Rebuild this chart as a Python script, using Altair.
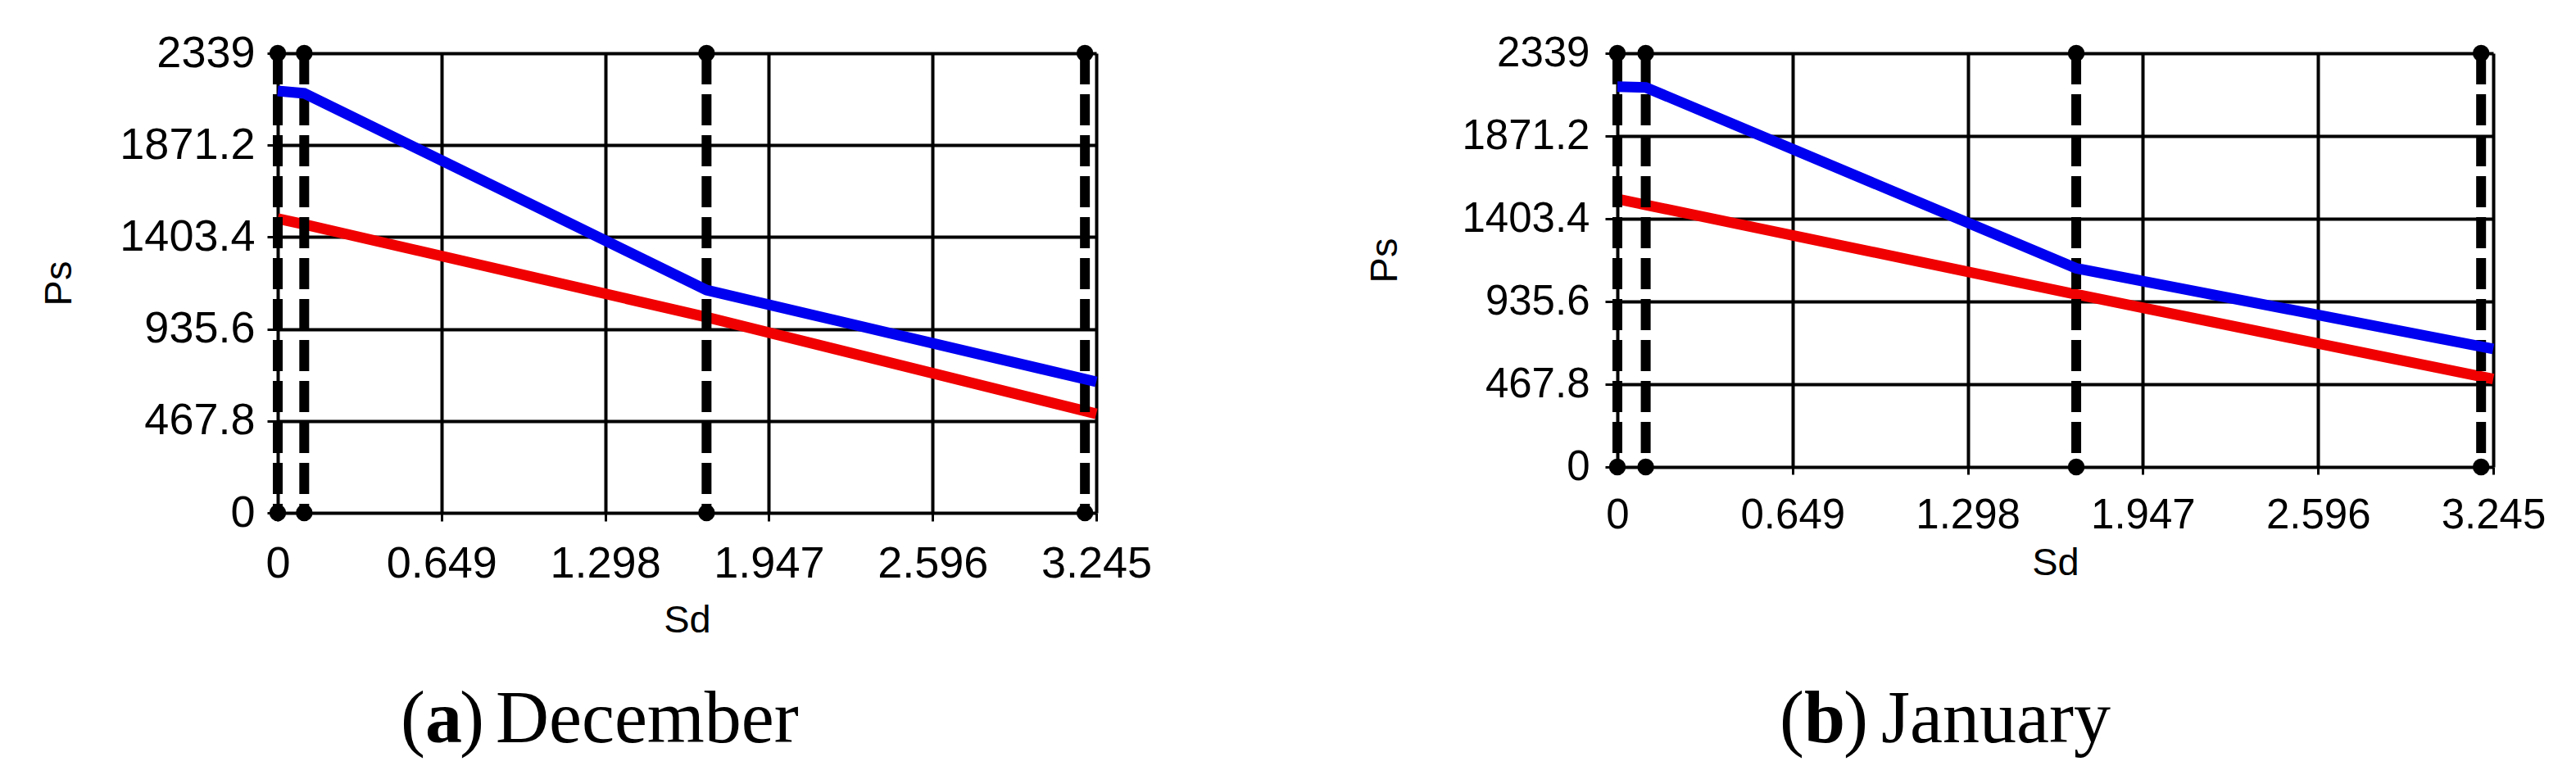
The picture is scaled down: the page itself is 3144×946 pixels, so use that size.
import altair as alt
import pandas as pd

# ---- data ----
sd_pts = [0.0, 0.105, 1.70, 3.245]
dec_blue = [2147, 2135, 1134, 667]
dec_red = [1497, 1468, 996, 504]
jan_blue = [2150, 2146, 1123, 668]
jan_red = [1515, 1482, 976, 497]
limit_sd = [0.0, 0.105, 1.70, 3.20]
x_ticks = [0, 0.649, 1.298, 1.947, 2.596, 3.245]
y_ticks = [0, 467.8, 935.6, 1403.4, 1871.2, 2339]
x_max = 3.245
y_max = 2339

SANS = "Liberation Sans"
SERIF = "Liberation Serif"
LABEL_EXPR = "format(datum.value, '.4~f')"


def one():
    return pd.DataFrame({"k": [0]})


def panel(blue, red, letter, month, w, h, fs, xtick, xpad, ytick, ypad,
          ps_x, sd_y, cap, b_left, b_top, b_right):
    xs = alt.Scale(domain=[0, x_max], nice=False, zero=False)
    ys = alt.Scale(domain=[0, y_max], nice=False, zero=False)
    xa = alt.Axis(values=x_ticks, labelExpr=LABEL_EXPR, title="Sd", grid=True,
                  gridColor="black", gridWidth=4, gridOpacity=1, domain=False,
                  tickColor="black", tickWidth=3, tickSize=xtick,
                  labelPadding=xpad, labelFont=SANS, labelFontSize=fs,
                  labelColor="black", labelFlush=False, labelOverlap=False,
                  titleFont=SANS, titleFontSize=47, titleFontWeight="normal",
                  titleColor="black", titleBaseline="alphabetic", titleY=sd_y)
    ya = alt.Axis(values=y_ticks, labelExpr=LABEL_EXPR, title="Ps", grid=True,
                  gridColor="black", gridWidth=4, gridOpacity=1, domain=False,
                  tickColor="black", tickWidth=3, tickSize=ytick,
                  labelPadding=ypad, labelFont=SANS, labelFontSize=fs,
                  labelColor="black", labelFlush=False, labelOverlap=False,
                  titleFont=SANS, titleFontSize=47, titleFontWeight="normal",
                  titleColor="black", titleAngle=270, titleAlign="center",
                  titleBaseline="alphabetic", titleX=ps_x, titleY=h / 2)
    X = alt.X("Sd:Q", scale=xs, axis=xa)
    Y = alt.Y("Ps:Q", scale=ys, axis=ya)

    red_df = pd.DataFrame({"Sd": sd_pts, "Ps": red})
    blue_df = pd.DataFrame({"Sd": sd_pts, "Ps": blue})
    rule_df = pd.DataFrame({"Sd": limit_sd, "Ps": [y_max] * len(limit_sd),
                            "Ps2": [0] * len(limit_sd)})
    dot_df = pd.DataFrame({"Sd": limit_sd + limit_sd,
                           "Ps": [y_max] * len(limit_sd) + [0] * len(limit_sd)})

    red_line = alt.Chart(red_df).mark_line(color="#f00000", strokeWidth=13).encode(x=X, y=Y)
    blue_line = alt.Chart(blue_df).mark_line(color="#0000f0", strokeWidth=13).encode(x=X, y=Y)
    rules = alt.Chart(rule_df).mark_rule(color="black", strokeWidth=12,
                                         strokeDash=[38, 12]).encode(x=X, y=Y, y2="Ps2:Q")
    dots = alt.Chart(dot_df).mark_circle(color="black", size=420, opacity=1).encode(x=X, y=Y)

    px1, px2, px3, px4, base = cap
    parts = []
    for txt, xv, wt in [("(", px1, "normal"), (letter, px2, "bold"),
                        (")", px3, "normal"), (month, px4, "normal")]:
        parts.append(alt.Chart(one()).mark_text(font=SERIF, fontSize=90, fontWeight=wt,
                                                color="black", align="left",
                                                baseline="alphabetic").encode(
            x=alt.value(xv), y=alt.value(base), text=alt.value(txt)))

    markers = [alt.Chart(one()).mark_rule(color="white", strokeWidth=1).encode(
        x=alt.value(b_left), x2=alt.value(b_left), y=alt.value(b_top), y2=alt.value(b_top + 1))]
    if b_right is not None:
        markers.append(alt.Chart(one()).mark_rule(color="white", strokeWidth=1).encode(
            x=alt.value(w + b_right), x2=alt.value(w + b_right),
            y=alt.value(h / 2), y2=alt.value(h / 2 + 1)))

    return alt.layer(red_line, rules, blue_line, dots, *parts, *markers).properties(
        width=w, height=h)


left = panel(dec_blue, dec_red, "a", "December", 999, 561, 54, 10, 25, 13, 15,
             -253, 145, (150, 180, 222, 266, 840.5), -325, -51, 100)
right = panel(jan_blue, jan_red, "b", "January", 1069, 505, 51, 9, 25, 15, 19,
              -270, 131, (198, 228, 276, 322, 840.5), -330, -51, None)

chart = alt.hconcat(left, right, spacing=204, bounds="full").configure_view(
    stroke="black", strokeWidth=5).configure(background="white")

chart.save("out.html", embed_options={"renderer": "svg", "actions": False})
